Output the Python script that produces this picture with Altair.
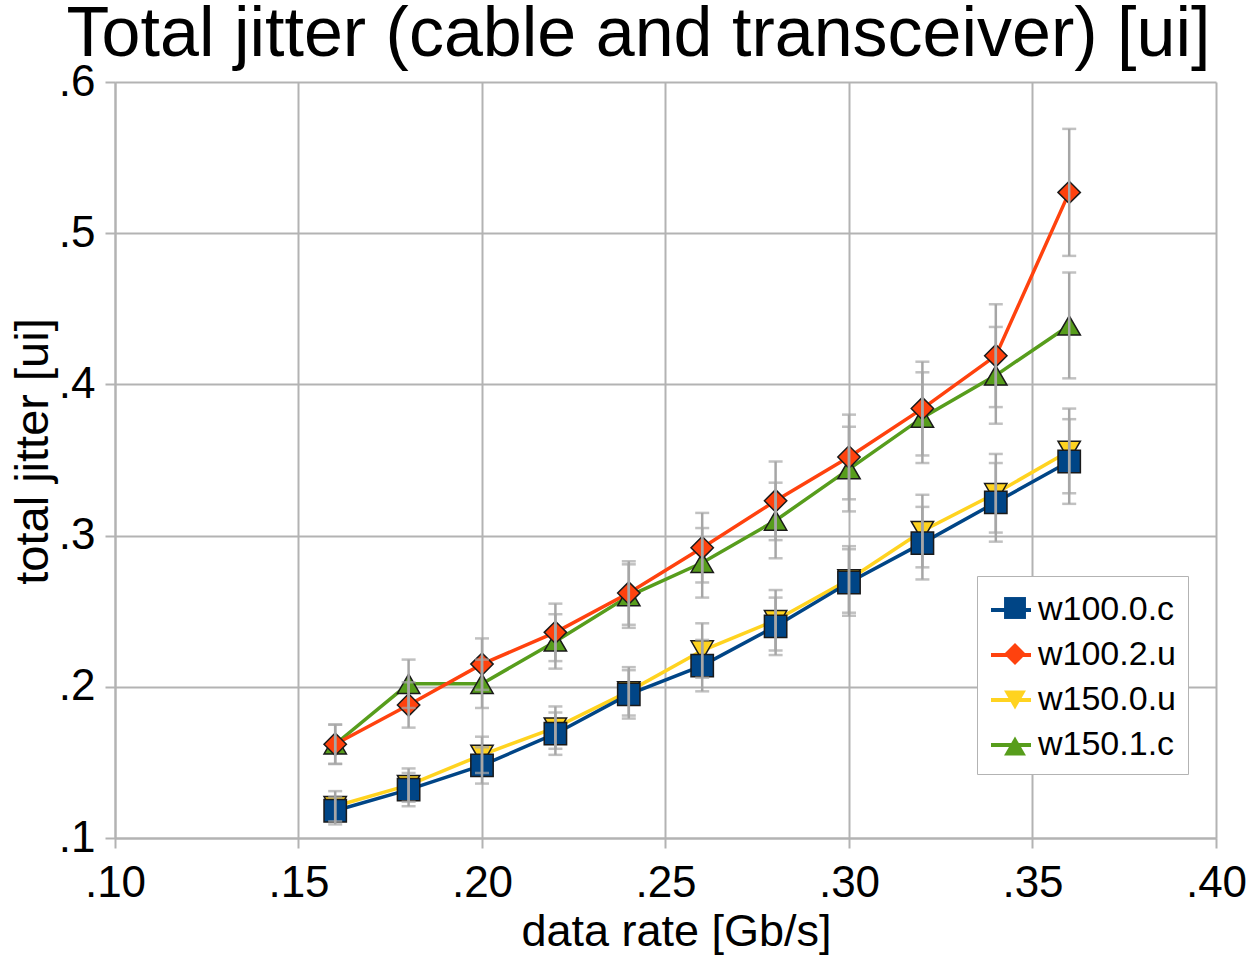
import altair as alt
import pandas as pd

# ---- data ----
rate = [0.16, 0.18, 0.20, 0.22, 0.24, 0.26, 0.28, 0.30, 0.32, 0.34, 0.36]
series_names = ["w100.0.c", "w100.2.u", "w150.0.u", "w150.1.c"]

w100_0_c = [0.118, 0.132, 0.148, 0.169, 0.195, 0.214, 0.240, 0.269, 0.295, 0.322, 0.349]
w100_0_c_err = [0.009, 0.011, 0.012, 0.014, 0.016, 0.017, 0.019, 0.022, 0.024, 0.026, 0.028]

w100_2_u = [0.162, 0.188, 0.215, 0.236, 0.262, 0.292, 0.323, 0.352, 0.384, 0.419, 0.527]
w100_2_u_err = [0.013, 0.015, 0.017, 0.019, 0.021, 0.023, 0.026, 0.028, 0.031, 0.034, 0.042]

w150_0_u = [0.121, 0.135, 0.155, 0.173, 0.197, 0.224, 0.244, 0.271, 0.303, 0.328, 0.356]
w150_0_u_err = [0.010, 0.011, 0.012, 0.014, 0.016, 0.018, 0.020, 0.022, 0.024, 0.026, 0.028]

w150_1_c = [0.162, 0.202, 0.202, 0.230, 0.260, 0.282, 0.310, 0.344, 0.378, 0.406, 0.439]
w150_1_c_err = [0.013, 0.016, 0.016, 0.018, 0.021, 0.023, 0.025, 0.028, 0.030, 0.032, 0.035]

x_ticks = [0.10, 0.15, 0.20, 0.25, 0.30, 0.35, 0.40]
y_ticks = [0.1, 0.2, 0.3, 0.4, 0.5, 0.6]

colors = ["#004586", "#ff420e", "#ffd320", "#579d1c"]
shapes = ["square", "diamond", "triangle-down", "triangle-up"]

values = {
    "w100.0.c": (w100_0_c, w100_0_c_err),
    "w100.2.u": (w100_2_u, w100_2_u_err),
    "w150.0.u": (w150_0_u, w150_0_u_err),
    "w150.1.c": (w150_1_c, w150_1_c_err),
}

# second key for the marker legend (a distinct domain keeps the two legends apart)
marker_keys = [s + " " for s in series_names]

# drawing order: last drawn on top (blue squares on top, as in the reference)
draw_order = ["w150.1.c", "w150.0.u", "w100.2.u", "w100.0.c"]
rows = []
for s in draw_order:
    vals, errs = values[s]
    for r, v, e in zip(rate, vals, errs):
        rows.append({"rate": r, "jitter": v, "lo": v - e, "hi": v + e,
                     "series": s, "series2": s + " "})
df = pd.DataFrame(rows)

FONT = "Liberation Sans"
GRID = "#b3b3b3"

x_enc = alt.X("rate:Q",
              scale=alt.Scale(domain=[0.10, 0.40], nice=False, zero=False),
              axis=alt.Axis(values=x_ticks,
                            labelExpr="substring(format(datum.value, '.2f'), 1)",
                            labelFlush=False,
                            title="data rate [Gb/s]",
                            titleX=561, titleY=107, titleBaseline="alphabetic",
                            titleAnchor="middle", titleAlign="center",
                            titleFontSize=45,
                            labelPadding=13))
y_enc = alt.Y("jitter:Q",
              scale=alt.Scale(domain=[0.1, 0.6], nice=False, zero=False),
              axis=alt.Axis(values=y_ticks,
                            labelExpr="substring(format(datum.value, '.1f'), 1)",
                            labelFlush=False,
                            title="total jitter [ui]",
                            titleX=-82, titleY=369, titleAngle=-90,
                            titleBaseline="middle", titleAlign="center",
                            titleFontSize=47,
                            labelPadding=10))

base = alt.Chart(df)

lines = base.mark_line(strokeWidth=3.5).encode(
    x=x_enc, y=y_enc,
    color=alt.Color("series:N",
                    scale=alt.Scale(domain=series_names, range=colors),
                    legend=alt.Legend(title=None, orient="none",
                                      legendX=862, legendY=494, padding=12,
                                      fillColor="white", strokeColor=GRID,
                                      symbolType="stroke", symbolSize=1600,
                                      symbolStrokeWidth=4,
                                      labelFont=FONT, labelFontSize=34,
                                      labelColor="black", labelOffset=5,
                                      rowPadding=6, labelLimit=400,
                                      zindex=0)),
)

pt_legend = alt.Legend(title=None, orient="none",
                       legendX=871, legendY=497, padding=12,
                       symbolSize=480, symbolStrokeColor="#1a1a1a",
                       symbolStrokeWidth=1.5, symbolOpacity=1,
                       labelFont=FONT, labelFontSize=34, labelOffset=5,
                       labelExpr="''",
                       rowPadding=12, labelOpacity=0, labelLimit=400,
                       zindex=1)

points = base.mark_point(filled=True, stroke="#1a1a1a", strokeWidth=1.5,
                         size=500, opacity=1).encode(
    x="rate:Q", y="jitter:Q",
    fill=alt.Fill("series2:N",
                  scale=alt.Scale(domain=marker_keys, range=colors),
                  legend=pt_legend),
    shape=alt.Shape("series2:N",
                    scale=alt.Scale(domain=marker_keys, range=shapes),
                    legend=pt_legend),
)

err_rule = base.mark_rule(color="#a6a6a6", strokeWidth=2.5).encode(
    x="rate:Q", y="lo:Q", y2="hi:Q")
err_top = base.mark_tick(color="#a6a6a6", orient="horizontal",
                         size=14, thickness=2.5).encode(x="rate:Q", y="hi:Q")
err_bot = base.mark_tick(color="#a6a6a6", orient="horizontal",
                         size=14, thickness=2.5).encode(x="rate:Q", y="lo:Q")

chart = alt.layer(lines, points, err_rule, err_top, err_bot).properties(
    width=1101, height=756,
    autosize=alt.AutoSizeParams(type="none"),
    padding={"left": 115, "top": 82, "right": 37, "bottom": 118},
    title=alt.TitleParams("Total jitter (cable and transceiver) [ui]",
                          font=FONT, fontSize=70, fontWeight="normal",
                          color="black", anchor="middle", frame="group",
                          baseline="alphabetic", offset=4, dx=-27, dy=70),
).configure_view(stroke="transparent").configure_axis(
    grid=True, gridColor=GRID, gridWidth=2,
    domainColor=GRID, domainWidth=2,
    tickColor=GRID, tickWidth=2, tickSize=10,
    labelFont=FONT, labelFontSize=44, labelColor="black",
    titleFont=FONT, titleFontWeight="normal",
    titleColor="black",
)

chart.save("out.html", embed_options={"renderer": "svg", "actions": False})
